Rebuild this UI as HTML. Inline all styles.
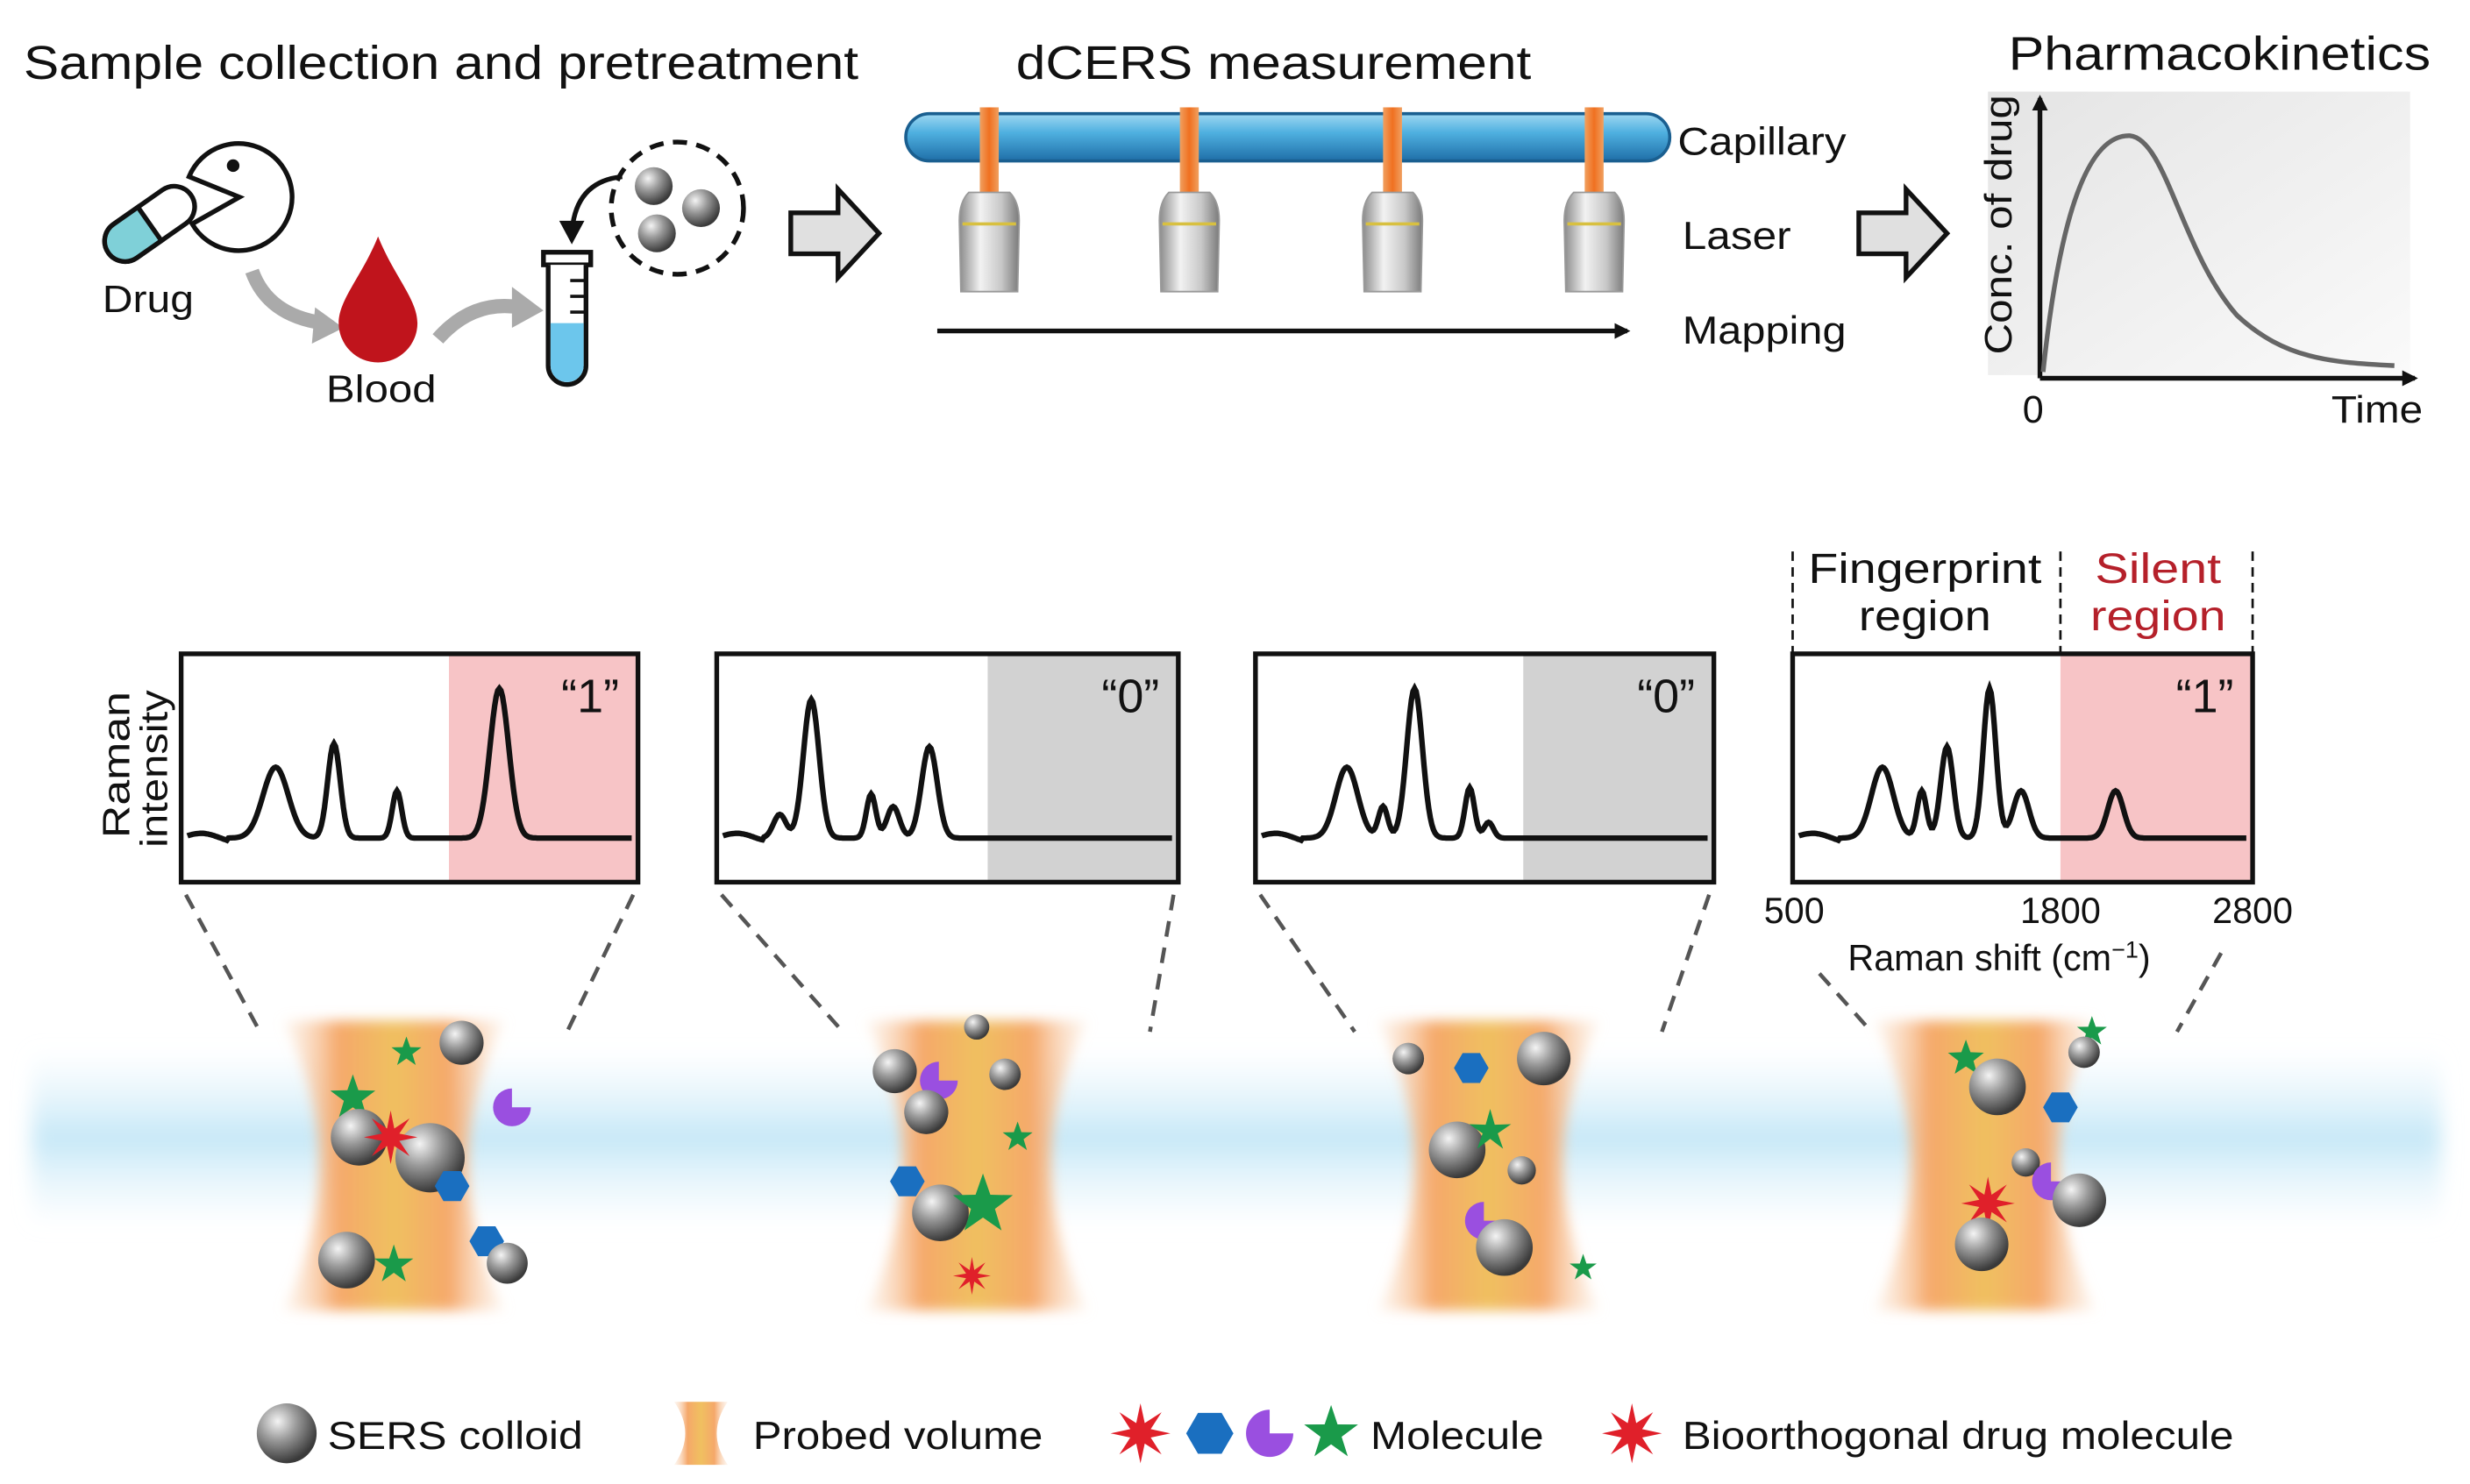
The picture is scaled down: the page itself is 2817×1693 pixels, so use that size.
<!DOCTYPE html>
<html><head><meta charset="utf-8">
<style>
html,body{margin:0;padding:0;background:#fff;}
svg{display:block;font-family:"Liberation Sans",Arial,sans-serif;}
</style></head>
<body>
<svg id="s" width="2817" height="1693" viewBox="0 0 1568 942" xmlns="http://www.w3.org/2000/svg">
<defs>
<radialGradient id="sph" cx="35%" cy="30%" r="70%">
<stop offset="0" stop-color="#f4f4f4"/><stop offset="0.45" stop-color="#9a9a9a"/><stop offset="1" stop-color="#3a3a3a"/></radialGradient>
<linearGradient id="cap" x1="0" y1="0" x2="0" y2="1">
<stop offset="0" stop-color="#9fd8f2"/><stop offset="0.4" stop-color="#4fb0e0"/><stop offset="1" stop-color="#1f6fa8"/></linearGradient>
<linearGradient id="las" x1="0" y1="0" x2="1" y2="0">
<stop offset="0" stop-color="#f0a060"/><stop offset="0.5" stop-color="#f07020"/><stop offset="1" stop-color="#f0a060"/></linearGradient>
<linearGradient id="obj" x1="0" y1="0" x2="1" y2="0">
<stop offset="0" stop-color="#8a8a8a"/><stop offset="0.35" stop-color="#f2f2f2"/><stop offset="0.7" stop-color="#c8c8c8"/><stop offset="1" stop-color="#7a7a7a"/></linearGradient>
<linearGradient id="pk" x1="0" y1="0" x2="1" y2="1">
<stop offset="0" stop-color="#e4e4e4"/><stop offset="1" stop-color="#fafafa"/></linearGradient>
<linearGradient id="probe" x1="0" y1="0" x2="1" y2="0">
<stop offset="0" stop-color="#fbe1cc" stop-opacity="0.3"/><stop offset="0.25" stop-color="#f5a86a"/><stop offset="0.5" stop-color="#f0c060"/><stop offset="0.75" stop-color="#f5a86a"/><stop offset="1" stop-color="#fbe1cc" stop-opacity="0.3"/></linearGradient>
<linearGradient id="band" x1="0" y1="0" x2="0" y2="1">
<stop offset="0" stop-color="#e0f2fb" stop-opacity="0"/><stop offset="0.5" stop-color="#c6e8f7"/><stop offset="1" stop-color="#e0f2fb" stop-opacity="0"/></linearGradient>
<filter id="blur"><feGaussianBlur stdDeviation="6"/></filter>
<filter id="blur2"><feGaussianBlur stdDeviation="4"/></filter>
<marker id="ah" markerWidth="10" markerHeight="10" refX="8" refY="5" orient="auto" markerUnits="userSpaceOnUse"><path d="M0,0 L10,5 L0,10 Z" fill="#111"/></marker>
</defs>

<!-- titles -->
<text x="15" y="50" font-size="30" textLength="530" lengthAdjust="spacingAndGlyphs" fill="#111">Sample collection and pretreatment</text>
<text x="645" y="50" font-size="30" textLength="327" lengthAdjust="spacingAndGlyphs" fill="#111">dCERS measurement</text>
<text x="1275" y="44" font-size="30" textLength="268" lengthAdjust="spacingAndGlyphs" fill="#111">Pharmacokinetics</text>

<!-- drug capsule -->
<g transform="translate(95,142) rotate(-35)">
<rect x="-32" y="-13" width="64" height="26" rx="13" fill="#fff" stroke="#111" stroke-width="3"/>
<path d="M0,-13 L-19,-13 A13,13 0 0 0 -19,13 L0,13 Z" fill="#7fd0d8" stroke="#111" stroke-width="3"/>
</g>
<path d="M152,125 L120,112 A34,34 0 1 1 122,142 Z" fill="#fff" stroke="#111" stroke-width="3"/>
<circle cx="148" cy="105" r="4" fill="#111"/>
<text x="65" y="198" font-size="24" textLength="58" lengthAdjust="spacingAndGlyphs" fill="#111">Drug</text>
<path d="M160,172 Q170,200 205,205" fill="none" stroke="#aaa" stroke-width="9"/>
<path d="M200,195 L218,208 L198,218 Z" fill="#aaa"/>
<!-- blood -->
<path d="M240,150 C250,175 265,190 265,205 A25,25 0 0 1 215,205 C215,190 230,175 240,150 Z" fill="#c0141c"/>
<text x="207" y="255" font-size="24" textLength="70" lengthAdjust="spacingAndGlyphs" fill="#111">Blood</text>
<path d="M278,215 Q300,190 330,195" fill="none" stroke="#aaa" stroke-width="9"/>
<path d="M325,182 L345,197 L325,208 Z" fill="#aaa"/>
<!-- tube -->
<rect x="345" y="160" width="30" height="8" fill="#fff" stroke="#111" stroke-width="3"/>
<path d="M348,168 L348,232 A12,12 0 0 0 372,232 L372,168" fill="#fff" stroke="#111" stroke-width="3"/>
<path d="M349.5,205 L349.5,232 A10.5,10.5 0 0 0 370.5,232 L370.5,205 Z" fill="#6cc6ec"/>
<g stroke="#111" stroke-width="2"><line x1="362" y1="178" x2="371" y2="178"/><line x1="362" y1="188" x2="371" y2="188"/><line x1="362" y1="198" x2="371" y2="198"/></g>
<path d="M395,112 Q365,115 363,148" fill="none" stroke="#111" stroke-width="3"/>
<path d="M355,140 L363,155 L371,140 Z" fill="#111"/>
<circle cx="430" cy="132" r="42" fill="none" stroke="#111" stroke-width="3" stroke-dasharray="9 6"/>
<circle cx="415" cy="118" r="12" fill="url(#sph)"/><circle cx="445" cy="132" r="12" fill="url(#sph)"/><circle cx="417" cy="148" r="12" fill="url(#sph)"/>

<!-- hollow arrows -->
<path d="M502,135 L532,135 L532,120 L558,148 L532,176 L532,161 L502,161 Z" fill="#e0e0e0" stroke="#111" stroke-width="3"/>
<path d="M1180,135 L1210,135 L1210,120 L1236,148 L1210,176 L1210,161 L1180,161 Z" fill="#e0e0e0" stroke="#111" stroke-width="3"/>

<!-- capillary -->
<rect x="575" y="72" width="485" height="30" rx="15" fill="url(#cap)" stroke="#1a5f90" stroke-width="2"/>
<g id="lasers"></g>
<line x1="595" y1="210" x2="1033" y2="210" stroke="#111" stroke-width="3" marker-end="url(#ah)"/>
<text x="1065" y="98" font-size="25" textLength="107" lengthAdjust="spacingAndGlyphs" fill="#111">Capillary</text>
<text x="1068" y="158" font-size="25" textLength="69" lengthAdjust="spacingAndGlyphs" fill="#111">Laser</text>
<text x="1068" y="218" font-size="25" textLength="104" lengthAdjust="spacingAndGlyphs" fill="#111">Mapping</text>

<!-- PK plot -->
<rect x="1262" y="58" width="268" height="180" fill="url(#pk)"/>
<line x1="1295" y1="240" x2="1295" y2="62" stroke="#111" stroke-width="3" marker-end="url(#ah)"/>
<line x1="1295" y1="240" x2="1533" y2="240" stroke="#111" stroke-width="3" marker-end="url(#ah)"/>
<path d="M1297,236 C1305,160 1320,85 1352,86 C1375,88 1385,160 1420,200 C1450,228 1480,230 1520,232" fill="none" stroke="#666" stroke-width="3"/>
<text transform="translate(1277,225) rotate(-90)" font-size="24" textLength="165" lengthAdjust="spacingAndGlyphs" fill="#111">Conc. of drug</text>
<text x="1284" y="268" font-size="24" fill="#111">0</text>
<text x="1480" y="268" font-size="24" textLength="58" lengthAdjust="spacingAndGlyphs" fill="#111">Time</text>

<!-- band -->
<rect x="20" y="665" width="1530" height="115" fill="url(#band)" filter="url(#blur)"/>

<g id="spec"></g>
<text transform="translate(82,532) rotate(-90)" font-size="24" textLength="93" lengthAdjust="spacingAndGlyphs" fill="#111">Raman</text>
<text transform="translate(106,538) rotate(-90)" font-size="24" textLength="100" lengthAdjust="spacingAndGlyphs" fill="#111">intensity</text>

<!-- region labels -->
<g stroke="#111" stroke-width="1.5" stroke-dasharray="6 4"><line x1="1138" y1="350" x2="1138" y2="415"/><line x1="1308" y1="350" x2="1308" y2="415"/><line x1="1430" y1="350" x2="1430" y2="415"/></g>
<text x="1148" y="370" font-size="27" textLength="148" lengthAdjust="spacingAndGlyphs" fill="#111">Fingerprint</text>
<text x="1180" y="400" font-size="27" textLength="84" lengthAdjust="spacingAndGlyphs" fill="#111">region</text>
<text x="1330" y="370" font-size="27" textLength="80" lengthAdjust="spacingAndGlyphs" fill="#b5202a">Silent</text>
<text x="1327" y="400" font-size="27" textLength="86" lengthAdjust="spacingAndGlyphs" fill="#b5202a">region</text>
<text x="1139" y="586" font-size="23" text-anchor="middle" fill="#111">500</text>
<text x="1308" y="586" font-size="23" text-anchor="middle" fill="#111">1800</text>
<text x="1430" y="586" font-size="23" text-anchor="middle" fill="#111">2800</text>
<text x="1173" y="616" font-size="23" fill="#111">Raman shift (cm<tspan dy="-8" font-size="15">−1</tspan><tspan dy="8">)</tspan></text>

<g id="probes"></g>

<!-- legend -->
<g id="legend"></g>
<text x="208" y="920" font-size="25" textLength="162" lengthAdjust="spacingAndGlyphs" fill="#111">SERS colloid</text>
<text x="478" y="920" font-size="25" textLength="184" lengthAdjust="spacingAndGlyphs" fill="#111">Probed volume</text>
<text x="870" y="920" font-size="25" textLength="110" lengthAdjust="spacingAndGlyphs" fill="#111">Molecule</text>
<text x="1068" y="920" font-size="25" textLength="350" lengthAdjust="spacingAndGlyphs" fill="#111">Bioorthogonal drug molecule</text>
</svg>
<script>
var NS="http://www.w3.org/2000/svg";
function el(p,t,a){var e=document.createElementNS(NS,t);for(var k in a)e.setAttribute(k,a[k]);p.appendChild(e);return e;}
var L=document.getElementById("lasers");
[628,755,884,1012].forEach(function(x){
 el(L,"rect",{x:x-6,y:68,width:12,height:54,fill:"url(#las)"});
 el(L,"path",{d:"M"+(x-13)+",122 L"+(x+13)+",122 Q"+(x+19)+",128 "+(x+19)+",140 L"+(x+18)+",185 L"+(x-18)+",185 L"+(x-19)+",140 Q"+(x-19)+",128 "+(x-13)+",122 Z",fill:"url(#obj)",stroke:"#999","stroke-width":1});
 el(L,"line",{x1:x-17,y1:142,x2:x+17,y2:142,stroke:"#d8c040","stroke-width":2});
});
var S=document.getElementById("spec");
var boxes=[[115,405,285,"#f7c4c6","“1”",[[175,45,8],[212,60,4],[252,30,3],[317,95,6]]],
[455,748,627,"#d2d2d2","“0”",[[495,15,4],[515,88,5],[553,28,3],[567,20,4],[590,58,5]]],
[797,1088,967,"#d2d2d2","“0”",[[855,45,7],[878,20,3],[898,95,5],[933,32,3],[945,10,3]]],
[1138,1430,1308,"#f7c4c6","“1”",[[1195,45,7],[1220,30,3],[1236,58,4],[1263,95,4],[1283,30,5],[1343,30,5]]]];
var pc=[250,620,945,1260];
boxes.forEach(function(b,i){
 el(S,"rect",{x:b[2],y:415,width:b[1]-b[2],height:145,fill:b[3]});
 var d="";for(var x=b[0]+4;x<=b[1]-4;x+=1){var y=532;if(x<b[0]+30)y-=3*Math.sin((x-b[0])/8);b[5].forEach(function(p){y-=p[1]*Math.exp(-Math.pow((x-p[0])/p[2],2)/2);});d+=(d?"L":"M")+x+","+y.toFixed(1);}
 el(S,"path",{d:d,fill:"none",stroke:"#111","stroke-width":3.5});
 el(S,"rect",{x:b[0],y:415,width:b[1]-b[0],height:145,fill:"none",stroke:"#111","stroke-width":3});
 var t=el(S,"text",{x:b[1]-12,y:452,"font-size":30,"text-anchor":"end",fill:"#111"});t.textContent=b[4];
 if(i<3){
 el(S,"line",{x1:b[0]+3,y1:568,x2:pc[i]-85,y2:655,stroke:"#555","stroke-width":2.5,"stroke-dasharray":"10 7"});
 el(S,"line",{x1:b[1]-3,y1:568,x2:pc[i]+110,y2:655,stroke:"#555","stroke-width":2.5,"stroke-dasharray":"10 7"});
 } else {
 el(S,"line",{x1:1155,y1:618,x2:1188,y2:655,stroke:"#555","stroke-width":2.5,"stroke-dasharray":"10 7"});
 el(S,"line",{x1:1410,y1:605,x2:1382,y2:655,stroke:"#555","stroke-width":2.5,"stroke-dasharray":"10 7"});
 }
});
function star(p,cx,cy,r,n,ri,fill){var d="";for(var i=0;i<2*n;i++){var a=Math.PI*i/n-Math.PI/2,rr=i%2?ri:r;d+=(i?"L":"M")+(cx+rr*Math.cos(a)).toFixed(1)+","+(cy+rr*Math.sin(a)).toFixed(1);}el(p,"path",{d:d+"Z",fill:fill});}
function hex(p,cx,cy,r){var d="";for(var i=0;i<6;i++){var a=Math.PI*i/3;d+=(i?"L":"M")+(cx+r*Math.cos(a)).toFixed(1)+","+(cy+r*Math.sin(a)).toFixed(1);}el(p,"path",{d:d+"Z",fill:"#1a6fc0"});}
function pac(p,cx,cy,r){el(p,"path",{d:"M"+cx+","+cy+" L"+(cx+r)+","+cy+" A"+r+","+r+" 0 1 1 "+cx+","+(cy-r)+" Z",fill:"#9a4fe0"});}
function sp(p,cx,cy,r){el(p,"circle",{cx:cx,cy:cy,r:r,fill:"url(#sph)"});}
var P=document.getElementById("probes");
pc.forEach(function(c){
 el(P,"path",{d:"M"+(c-70)+",648 Q"+(c-25)+",740 "+(c-70)+",832 L"+(c+70)+",832 Q"+(c+25)+",740 "+(c+70)+",648 Z",fill:"url(#probe)",filter:"url(#blur2)"});
});
var g=P;
sp(g,293,662,14);star(g,258,668,10,5,4,"#1a9a4a");pac(g,325,703,12);star(g,224,697,15,5,6,"#1a9a4a");
sp(g,228,722,18);sp(g,273,735,22);star(g,248,722,17,8,6,"#e0202a");hex(g,287,753,11);hex(g,309,788,11);
sp(g,220,800,18);star(g,250,803,13,5,5,"#1a9a4a");sp(g,322,802,13);
sp(g,620,652,8);sp(g,568,680,14);pac(g,596,686,12);sp(g,638,682,10);sp(g,588,706,14);star(g,646,722,10,5,4,"#1a9a4a");
hex(g,576,750,11);sp(g,597,770,18);star(g,624,765,20,5,8,"#1a9a4a");star(g,617,810,12,8,4,"#e0202a");
sp(g,894,672,10);hex(g,934,678,11);sp(g,980,672,17);sp(g,925,730,18);star(g,946,718,14,5,5,"#1a9a4a");
sp(g,966,743,9);pac(g,942,775,12);sp(g,955,792,18);star(g,1005,805,9,5,3.5,"#1a9a4a");
star(g,1248,672,12,5,5,"#1a9a4a");sp(g,1268,690,18);star(g,1328,655,10,5,4,"#1a9a4a");sp(g,1323,668,10);
hex(g,1308,703,11);sp(g,1286,738,9);pac(g,1302,750,12);sp(g,1320,762,17);star(g,1262,764,17,8,6,"#e0202a");sp(g,1258,790,17);
var G=document.getElementById("legend");
sp(G,182,910,19);
el(G,"path",{d:"M428,890 Q442,910 428,930 L462,930 Q448,910 462,890 Z",fill:"url(#probe)"});
star(G,724,910,19,8,7,"#e0202a");hex(G,768,910,15);pac(G,806,910,15);star(G,845,910,18,5,7,"#1a9a4a");
star(G,1036,910,19,8,7,"#e0202a");
</script>
</body></html>
